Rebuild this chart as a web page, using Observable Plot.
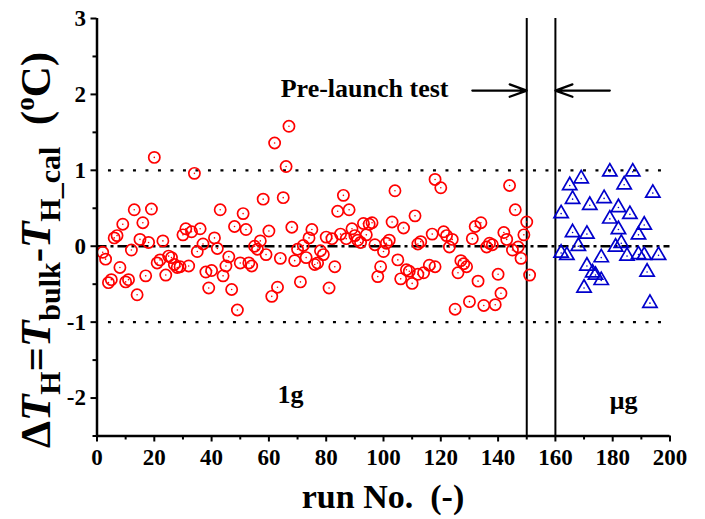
<!DOCTYPE html>
<html>
<head>
<meta charset="utf-8">
<script src="https://cdn.jsdelivr.net/npm/d3@7"></script>
<script src="https://cdn.jsdelivr.net/npm/@observablehq/plot@0.6"></script>
<style>
  html, body { margin: 0; padding: 0; background: white; }
  #chart svg { display: block; }
</style>
</head>
<body>
<div id="chart"></div>
<script>
// ---- data ----
const redRun = [2,3,4,5,6,7,8,9,10,11,12,13,14,15,16,17,18,19,20,21,22,23,24,25,26,27,28,29,30,31,32,33,34,35,36,37,38,39,40,41,42,43,44,45,46,47,48,49,50,51,52,53,54,55,56,57,58,59,60,61,62,63,64,65,66,67,68,69,70,71,72,73,74,75,76,77,78,79,80,81,82,83,84,85,86,87,88,89,90,91,92,93,94,95,96,97,98,99,100,101,102,103,104,105,106,107,108,109,110,111,112,112,113,114,116,117,118,118,120,121,122,123,124,125,126,127,128,129,130,131,132,133,134,135,136,137,138,139,140,141,142,143,144,145,146,147,148,149,150,151];
const redDT = [-0.08,-0.17,-0.48,-0.44,0.11,0.14,-0.28,0.29,-0.47,-0.44,-0.05,0.48,-0.64,0.09,0.31,-0.39,0.05,0.49,1.17,-0.22,-0.18,0.07,-0.38,-0.13,-0.15,-0.24,-0.28,-0.27,0.15,0.23,-0.26,0.19,0.96,-0.07,0.23,0.03,-0.34,-0.55,-0.32,0.11,-0.03,0.48,-0.39,-0.26,-0.14,-0.57,0.26,-0.84,-0.22,0.43,0.22,-0.22,-0.26,0.00,-0.04,0.07,0.62,-0.11,0.20,-0.66,1.36,-0.54,-0.16,0.64,1.05,1.58,0.25,-0.19,-0.04,-0.47,0.01,-0.15,0.11,0.22,-0.24,-0.22,-0.06,-0.11,0.12,-0.55,0.10,-0.27,0.46,0.16,0.67,0.10,0.48,0.23,0.14,0.08,0.05,0.30,0.15,0.29,0.31,0.02,-0.40,-0.27,-0.07,0.04,0.08,0.32,0.73,-0.18,-0.43,0.24,-0.31,-0.33,-0.49,0.40,0.03,-0.37,0.06,-0.35,-0.25,0.16,-0.27,0.88,0.77,0.19,0.14,-0.01,0.09,-0.83,-0.35,-0.19,-0.23,-0.27,-0.73,0.10,0.26,-0.46,0.31,-0.78,-0.01,0.04,0.02,-0.77,-0.37,-0.62,0.18,0.09,0.80,-0.05,0.48,-0.01,-0.16,0.15,0.32,-0.38];
const blueRun = [162,162,164,165,166,166,168,169,170,171,171,172,173,174,176,176,177,179,179,181,182,182,183,184,185,186,187,189,189,191,191,192,193,194,196];
const blueDT = [0.43,-0.09,-0.12,0.80,0.62,0.18,0.00,0.89,-0.55,0.16,-0.26,0.54,-0.35,-0.38,-0.45,-0.15,0.63,0.36,0.98,-0.01,0.51,0.22,0.04,0.81,-0.13,0.42,0.98,0.15,-0.11,0.28,-0.12,-0.34,-0.75,0.70,-0.12];
const xTicks = [0,20,40,60,80,100,120,140,160,180,200];
const xMinorTicks = [10,30,50,70,90,110,130,150,170,190];
const yTicks = [-2,-1,0,1,2,3];
const yMinorTicks = [-2.5,-1.5,-0.5,0.5,1.5,2.5];
const limitLines = [1,-1];
const phaseLines = [150,160];
const xLabel = "run No.  (-)";

const red = redRun.map((r, i) => ({run: r, dt: redDT[i]}));
const blue = blueRun.map((r, i) => ({run: r, dt: blueDT[i]}));

const FONT = "'Times New Roman', 'Liberation Serif', serif";
const fmt = d => String(d);

const chart = Plot.plot({
  width: 705,
  height: 519,
  marginLeft: 96.5,
  marginRight: 35.5,
  marginTop: 18,
  marginBottom: 83.5,
  x: {domain: [0, 200]},
  y: {domain: [-2.5, 3]},
  style: {fontFamily: FONT, fontWeight: "bold", background: "white", color: "black"},
  marks: [
    // reference lines
    Plot.ruleY(limitLines, {x1: 4, x2: 200, stroke: "black", strokeWidth: 2.2, strokeDasharray: "3,9.5"}),
    Plot.ruleY([0], {x1: 0, x2: 200, stroke: "black", strokeWidth: 2.5, strokeDasharray: "10,4,3,4"}),
    Plot.ruleX(phaseLines, {y1: -2.5, y2: 3, stroke: "black", strokeWidth: 2}),
    // arrows
    Plot.arrow([0], {x1: 131, x2: 150, y1: 2.05, y2: 2.05, stroke: "black", strokeWidth: 2.2, headLength: 17, headAngle: 40}),
    Plot.arrow([0], {x1: 179, x2: 160, y1: 2.05, y2: 2.05, stroke: "black", strokeWidth: 2.2, headLength: 17, headAngle: 40}),
    // annotations
    Plot.text(["Pre-launch test"], {x: 93.4, y: 2.07, text: d => d, fontSize: 26, fontWeight: "bold", fill: "black"}),
    Plot.text(["1g"], {x: 67.5, y: -1.95, text: d => d, fontSize: 26, fontWeight: "bold", fill: "black"}),
    Plot.text(["\u03bcg"], {x: 183.8, y: -2.04, text: d => d, fontSize: 26, fontWeight: "bold", fill: "black"}),
    // data
    Plot.dot(red, {x: "run", y: "dt", r: 5.6, stroke: "#ff0000", strokeWidth: 1.7, fill: "none"}),
    Plot.dot(red, {x: "run", y: "dt", r: 0.8, fill: "#ff0000", stroke: null}),
    Plot.dot(blue, {x: "run", y: "dt", symbol: "triangle", r: 5.3, stroke: "#0000cc", strokeWidth: 1.7, fill: "none"}),
    Plot.dot(blue, {x: "run", y: "dt", r: 0.8, fill: "#0000cc", stroke: null}),
    // axes
    Plot.axisX({ticks: xTicks, tickSize: 6, tickPadding: 7, strokeWidth: 2, fontSize: 23, fontWeight: "bold", tickFormat: fmt, label: null}),
    Plot.axisX({ticks: xMinorTicks, tickSize: 4, tickFormat: () => "", strokeWidth: 2, label: null}),
    Plot.axisY({ticks: yTicks, tickSize: 6, tickPadding: 5, strokeWidth: 2, fontSize: 23, fontWeight: "bold", tickFormat: fmt, label: null}),
    Plot.axisY({ticks: yMinorTicks, tickSize: 4, tickFormat: () => "", strokeWidth: 2, label: null}),
    Plot.ruleX([0], {y1: -2.5, y2: 3, stroke: "black", strokeWidth: 2.5}),
    Plot.ruleY([-2.5], {x1: 0, x2: 200, stroke: "black", strokeWidth: 2.5})
  ]
});

document.getElementById("chart").appendChild(chart);

// axis titles with rich text
const svg = d3.select(chart);
svg.append("text")
  .attr("x", 383)
  .attr("y", 508)
  .attr("text-anchor", "middle")
  .attr("font-family", FONT)
  .attr("font-weight", "bold")
  .attr("font-size", 34)
  .attr("fill", "black")
  .style("white-space", "pre")
  .text(xLabel);

const yl = svg.append("text")
  .attr("transform", "translate(50,250) rotate(-90)")
  .attr("text-anchor", "middle")
  .attr("font-family", FONT)
  .attr("font-weight", "bold")
  .attr("font-size", 43)
  .attr("fill", "black")
  .style("white-space", "pre");
const parts = [
  {t: "\u0394"},
  {t: "T", it: true},
  {t: "H", sub: true},
  {t: "=", back: true},
  {t: "T", it: true},
  {t: "bulk", sub: true},
  {t: "-", back: true},
  {t: "T", it: true},
  {t: "H_cal", sub: true},
  {t: "  (", back: true},
  {t: "o", sup: true},
  {t: "C)", backSup: true}
];
parts.forEach(p => {
  const ts = yl.append("tspan").text(p.t);
  if (p.it) ts.attr("font-style", "italic");
  if (p.sub) ts.attr("font-size", 30).attr("dy", 10);
  if (p.back) ts.attr("dy", -10);
  if (p.sup) ts.attr("font-size", 27).attr("dy", -16);
  if (p.backSup) ts.attr("dy", 16);
});
</script>
</body>
</html>
